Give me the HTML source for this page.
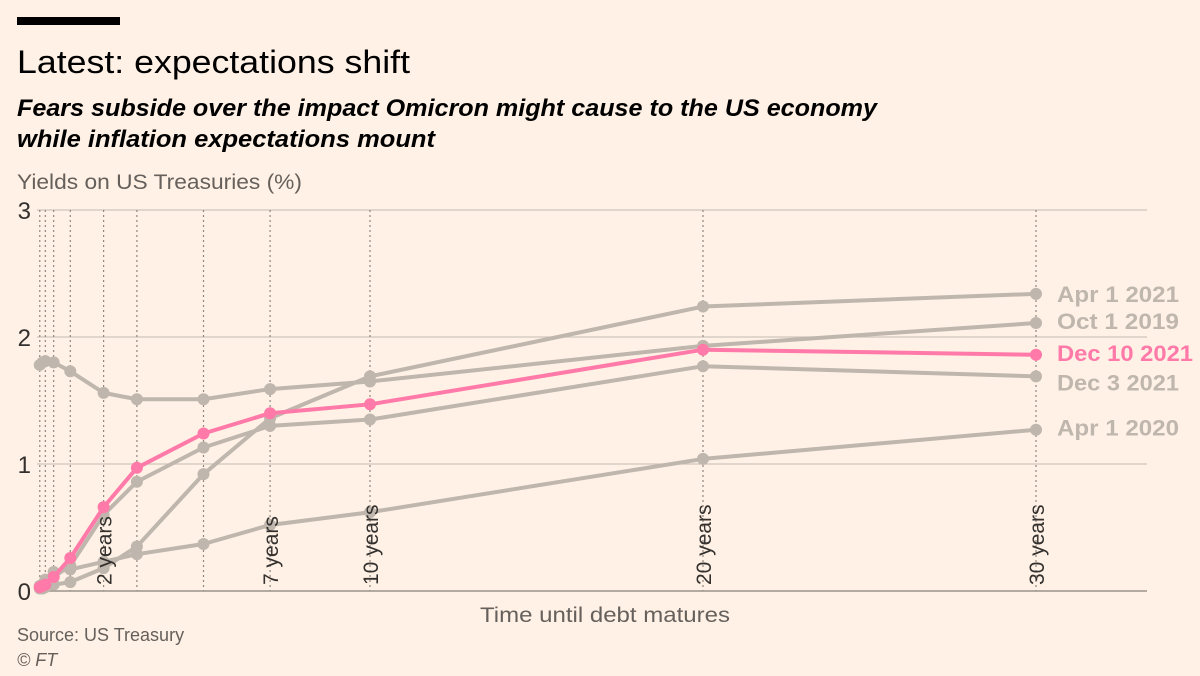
<!DOCTYPE html>
<html><head><meta charset="utf-8"><style>
html,body{margin:0;padding:0;background:#fff1e5;}
svg{display:block;font-family:"Liberation Sans",sans-serif;}
</style></head><body>
<svg id="chart" width="1200" height="676" viewBox="0 0 1200 676">
<rect x="0" y="0" width="1200" height="676" fill="#fff1e5"/>
<rect x="17" y="17" width="103" height="8" fill="#000"/>
<text x="17" y="73" font-size="32" fill="#000" textLength="393" lengthAdjust="spacingAndGlyphs">Latest: expectations shift</text>
<text x="17" y="116" font-size="24" font-style="italic" font-weight="bold" fill="#000" textLength="860" lengthAdjust="spacingAndGlyphs">Fears subside over the impact Omicron might cause to the US economy</text>
<text x="17" y="147" font-size="24" font-style="italic" font-weight="bold" fill="#000" textLength="418" lengthAdjust="spacingAndGlyphs">while inflation expectations mount</text>
<text x="17" y="189" font-size="21" fill="#66605c" textLength="285" lengthAdjust="spacingAndGlyphs">Yields on US Treasuries (%)</text>
<g id="grid"></g>
<g id="series"></g>
<text x="605" y="622" font-size="21" fill="#66605c" text-anchor="middle" textLength="250" lengthAdjust="spacingAndGlyphs">Time until debt matures</text>
<text x="17" y="641" font-size="18" fill="#66605c">Source: US Treasury</text>
<text x="17" y="666" font-size="18" font-style="italic" fill="#66605c">© FT</text>
</svg>
<script>
const maturities = [1/12, 2/12, 3/12, 0.5, 1, 2, 3, 5, 7, 10, 20, 30];
const gridMaturities = [1/12, 3/12, 0.5, 1, 2, 3, 5, 7, 10, 20, 30];
const labelledMaturities = [2, 7, 10, 20, 30];
const yTicks = [0, 1, 2, 3];
const seriesNames = ["Oct 1 2019", "Apr 1 2020", "Apr 1 2021", "Dec 3 2021", "Dec 10 2021"];
const oct2019 = [1.78, 1.80, 1.81, 1.80, 1.73, 1.56, 1.51, 1.51, 1.59, 1.65, 1.93, 2.11];
const apr2020 = [0.03, 0.05, 0.09, 0.15, 0.17, 0.23, 0.29, 0.37, 0.52, 0.62, 1.04, 1.27];
const apr2021 = [0.02, 0.02, 0.03, 0.05, 0.07, 0.18, 0.35, 0.92, 1.36, 1.69, 2.24, 2.34];
const dec3_2021 = [0.04, 0.05, 0.06, 0.11, 0.20, 0.60, 0.86, 1.13, 1.30, 1.35, 1.77, 1.69];
const dec10_2021 = [0.03, 0.04, 0.05, 0.11, 0.26, 0.66, 0.97, 1.24, 1.40, 1.47, 1.90, 1.86];

const NS = "http://www.w3.org/2000/svg";
const X0 = 37, X30 = 1036, Y0 = 591, Y3 = 210;
function xs(v){ return X0 + (X30 - X0) * v / 30; }
function ys(v){ return Y0 - (Y0 - Y3) * v / 3; }
function mk(tag, attrs, parent){
  const el = document.createElementNS(NS, tag);
  for (const k in attrs) el.setAttribute(k, attrs[k]);
  parent.appendChild(el);
  return el;
}
const grid = document.getElementById("grid");
yTicks.forEach(t => {
  if (t > 0) {
    const l = mk("line", {x1: 37, x2: 1147, y1: ys(t), y2: ys(t), stroke: "#cfc5bc", "stroke-width": 1.2}, grid);
    
    
  }
  const tx = mk("text", {x: 31, y: ys(t) + 9, "font-size": 24, fill: "#33302e", "text-anchor": "end"}, grid);
  tx.textContent = t;
  
  
});
gridMaturities.forEach(m => {
  const l = mk("line", {x1: xs(m), x2: xs(m), y1: Y3, y2: Y0, stroke: "#8f8780", "stroke-width": 1.2, "stroke-dasharray": "2,3"}, grid);
  
  
});
const base = mk("line", {x1: 37, x2: 1147, y1: Y0, y2: Y0, stroke: "#9a928b", "stroke-width": 1.5}, grid);



const sg = document.getElementById("series");
const allSeries = [oct2019, apr2020, apr2021, dec3_2021, dec10_2021];
const colors = ["#bfb6ad", "#bfb6ad", "#bfb6ad", "#bfb6ad", "#ff7aa8"];
allSeries.forEach((vals, i) => {
  const g = mk("g", {}, sg);
  
  
  const pts = vals.map((v, j) => xs(maturities[j]) + "," + ys(v)).join(" ");
  const pl = mk("polyline", {points: pts, fill: "none", stroke: colors[i], "stroke-width": 4, "stroke-linejoin": "round"}, g);
  
  
  vals.forEach((v, j) => {
    const c = mk("circle", {cx: xs(maturities[j]), cy: ys(v), r: 6, fill: colors[i]}, g);
    
    
  });
});
labelledMaturities.forEach(m => {
  const x = xs(m);
  const t = mk("text", {x: 0, y: 0, "font-size": 21, fill: "#33302e", transform: "translate(" + (x + 8) + "," + (Y0 - 6) + ") rotate(-90)"}, sg);
  t.textContent = m + " years";
  
  
});
// label nudges (px) to avoid overlap
const labelNudge = [-2, -2, 0, 6, -2];
allSeries.forEach((vals, i) => {
  const t = mk("text", {x: 1057, y: ys(vals[vals.length - 1]) + 8 + labelNudge[i], "font-size": 22, "font-weight": "bold", fill: colors[i], textLength: seriesNames[i].length === 11 ? 136 : 122, lengthAdjust: "spacingAndGlyphs"}, sg);
  t.textContent = seriesNames[i];
  
  
});
</script>
</body></html>
